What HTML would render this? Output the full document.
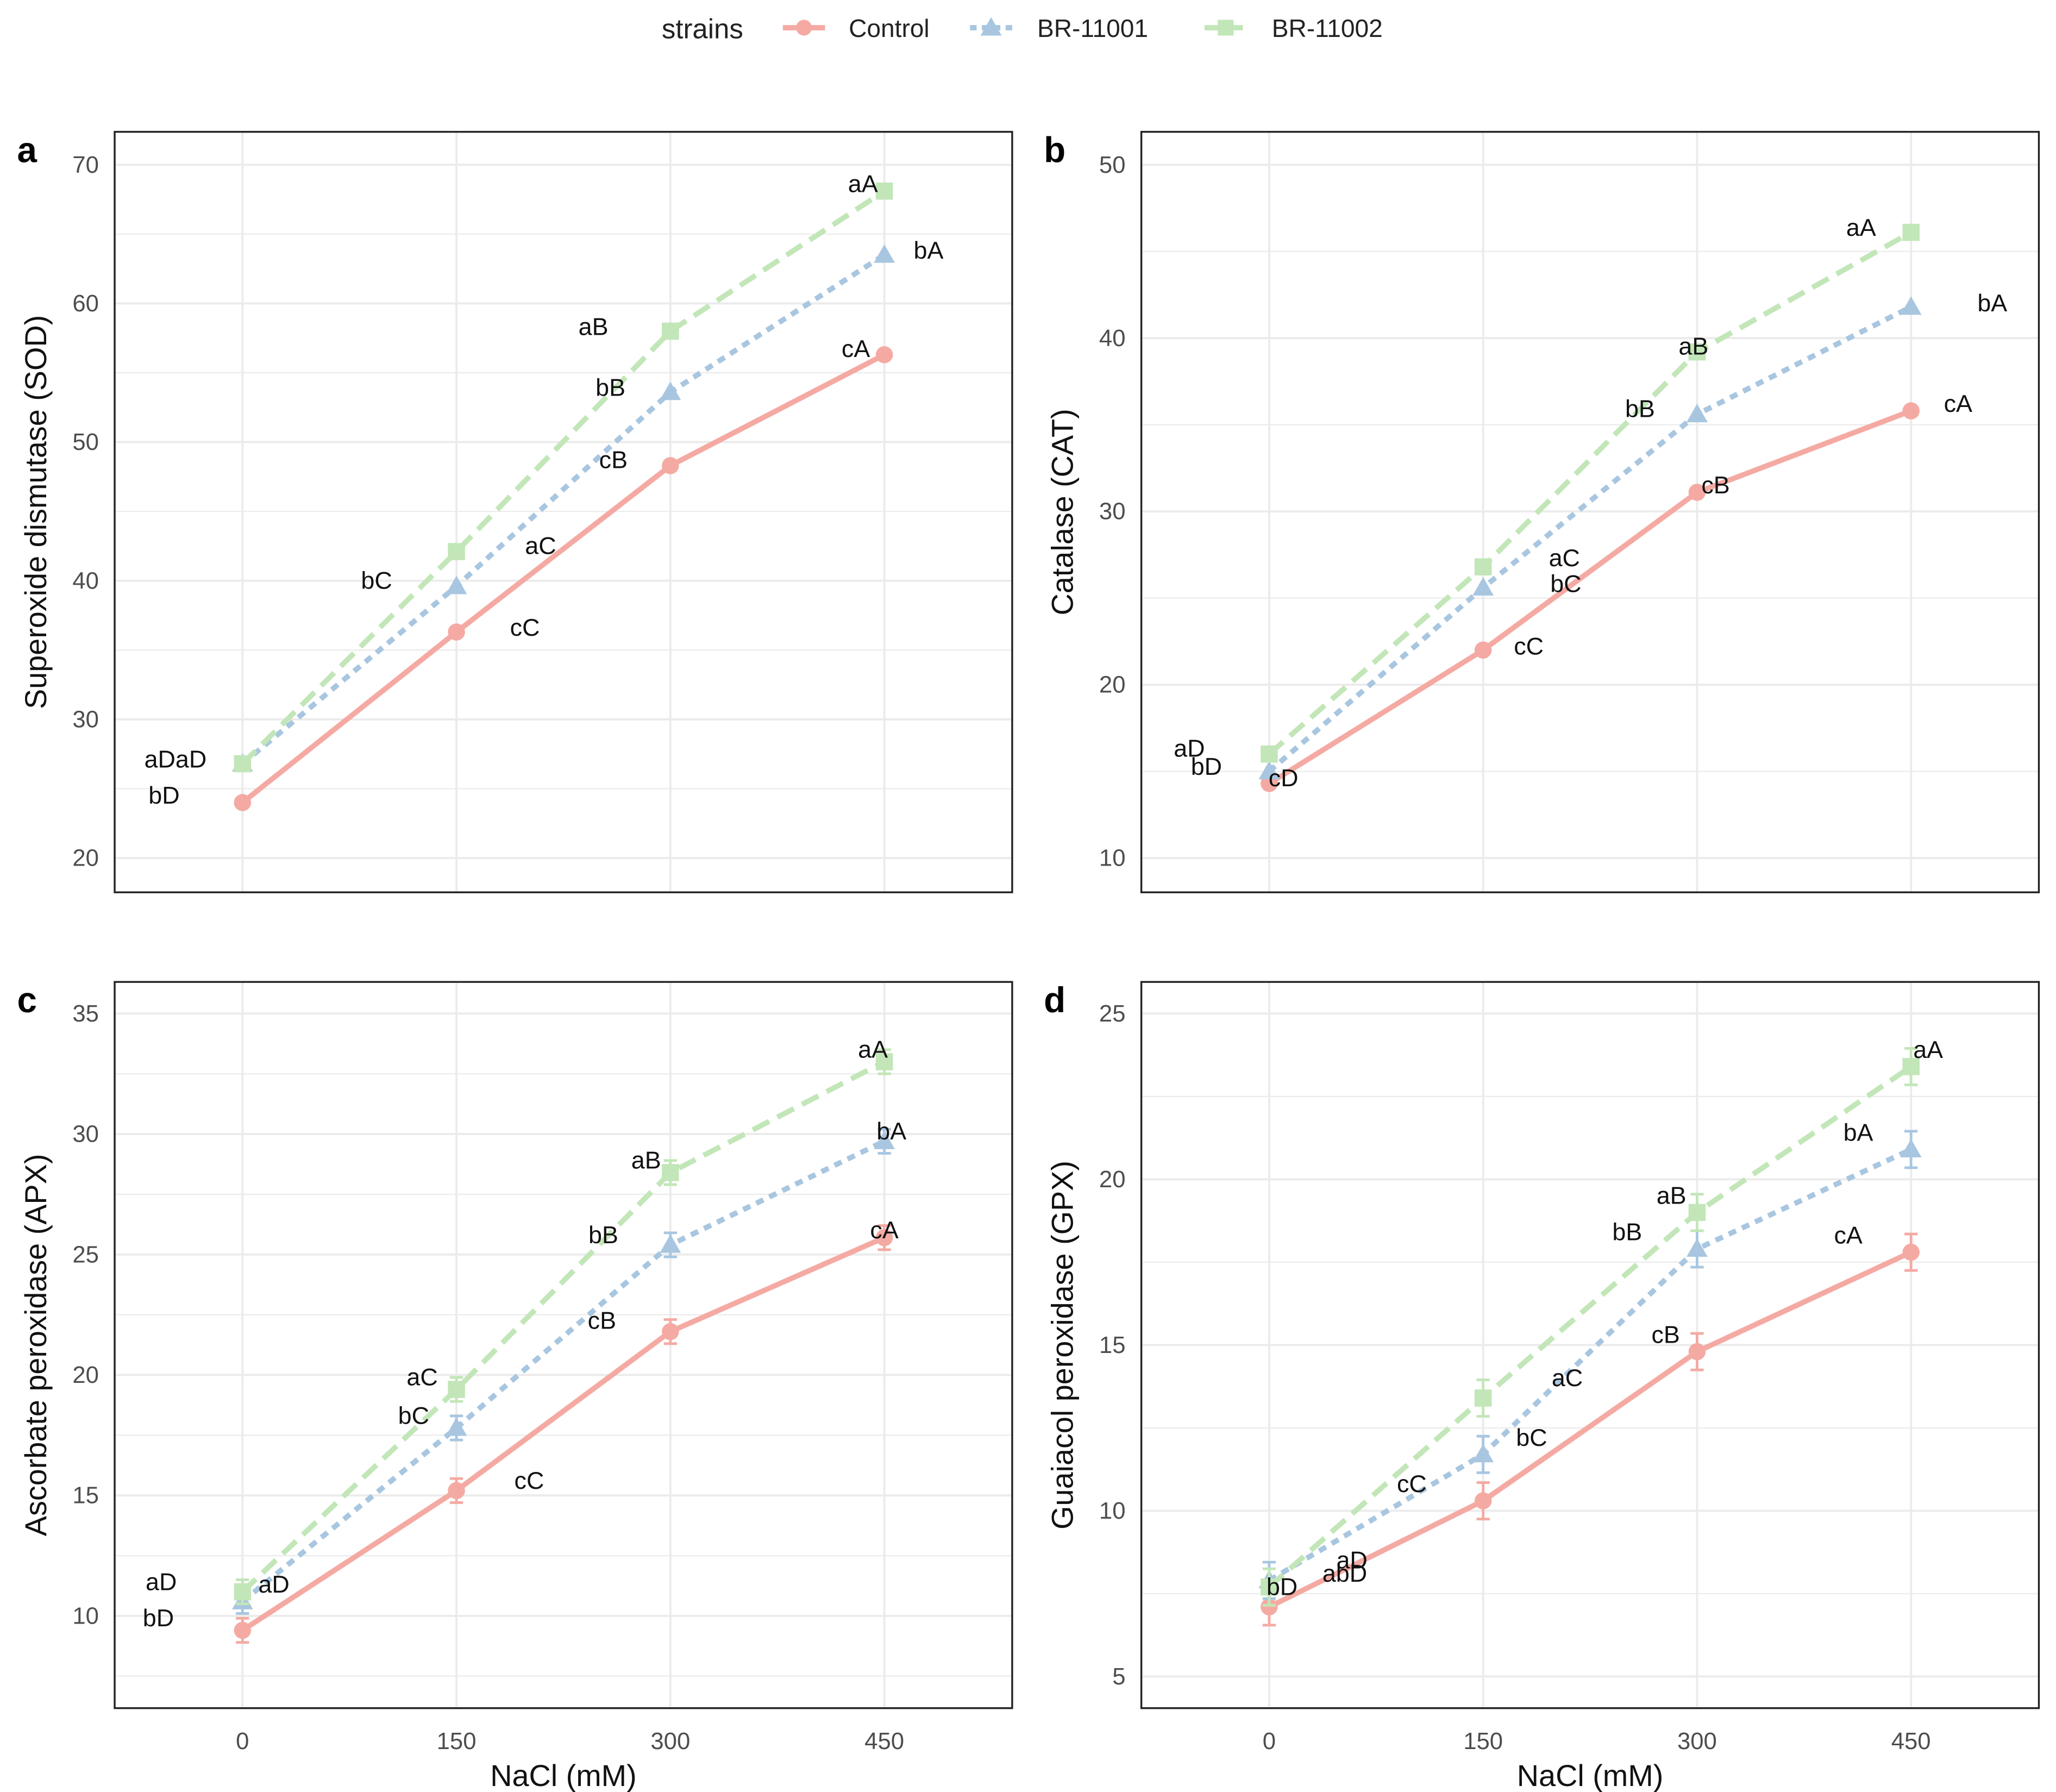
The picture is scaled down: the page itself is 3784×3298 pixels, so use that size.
<!DOCTYPE html>
<html><head><meta charset="utf-8"><style>
html,body{margin:0;padding:0;background:#fff;}
svg{display:block;font-family:"Liberation Sans",Arial,sans-serif;}
</style></head><body>
<svg id="chart" width="3784" height="3298" viewBox="0 0 1560 1359.6" xmlns="http://www.w3.org/2000/svg">
<g id="legend">
<text x="533" y="29" font-size="21" text-anchor="middle" fill="#222">strains</text>
<g><line x1="594" y1="21" x2="626" y2="21" stroke="#F4AAA3" stroke-width="4"/><circle cx="610" cy="21" r="6" fill="#F4AAA3"/><text x="644" y="28" font-size="19" fill="#222">Control</text></g>
<g><line x1="736" y1="21" x2="768" y2="21" stroke="#A8C6E0" stroke-width="4" stroke-dasharray="5 4"/><path d="M752 13 L760 27 L744 27 Z" fill="#A8C6E0"/><text x="787" y="28" font-size="19" fill="#222">BR-11001</text></g>
<g><line x1="914" y1="21" x2="946" y2="21" stroke="#C2E6B8" stroke-width="4" stroke-dasharray="12 5"/><rect x="924" y="15" width="12" height="12" fill="#C2E6B8"/><text x="965" y="28" font-size="19" fill="#222">BR-11002</text></g>
</g>
</svg>
<script>
const xCats = [0, 150, 300, 450];
const seriesNames = ['Control', 'BR-11001', 'BR-11002'];
const aControl = [24, 36.3, 48.3, 56.3];
const a11001 = [26.8, 39.6, 53.6, 63.5];
const a11002 = [26.8, 42.1, 58, 68.1];
const bControl = [14.3, 22, 31.1, 35.8];
const b11001 = [15, 25.6, 35.6, 41.8];
const b11002 = [16, 26.8, 39.2, 46.1];
const cControl = [9.4, 15.2, 21.8, 25.7];
const c11001 = [10.6, 17.8, 25.4, 29.7];
const c11002 = [11, 19.4, 28.4, 33];
const cErr = [0.5, 0.5, 0.5, 0.5];
const dControl = [7.1, 10.3, 14.8, 17.8];
const d11001 = [7.9, 11.7, 17.9, 20.9];
const d11002 = [7.7, 13.4, 19, 23.4];
const dErr = [0.55, 0.55, 0.55, 0.55];
const aTicks = [20, 30, 40, 50, 60, 70];
const bTicks = [10, 20, 30, 40, 50];
const cTicks = [10, 15, 20, 25, 30, 35];
const dTicks = [5, 10, 15, 20, 25];
const aLabels = [['aA',435,68.6],['bA',481,63.8],['aB',246,58.3],['cA',430,56.7],['bB',258,53.9],['cB',260,48.7],['aC',209,42.5],['bC',94,40],['cC',198,36.6],['aDaD',-47,27.1],['bD',-55,24.5]];
const bLabels = [['aA',415,46.35],['bA',507,42],['aB',297.5,39.5],['cA',483,36.2],['bB',260,35.9],['cB',313,31.5],['aC',207,27.3],['bC',208,25.8],['cC',182,22.2],['aD',-56,16.3],['bD',-44,15.25],['cD',10,14.6]];
const cLabels = [['aA',442,33.5],['bA',455,30.1],['aB',283,28.9],['bB',253,25.8],['cA',450,26],['cB',252,22.25],['aC',126,19.9],['bC',120,18.3],['cC',201,15.6],['aD',-57,11.4],['aD',22,11.3],['bD',-59,9.9]];
const dLabels = [['aA',462,23.9],['bA',413,21.4],['aB',282,19.5],['bB',251,18.4],['cA',406,18.3],['cB',278,15.3],['aC',209,14],['bC',184,12.2],['cC',100,10.8],['aD',58,8.5],['abD',53,8.1],['bD',9,7.7]];

const NS = 'http://www.w3.org/2000/svg';
const svg = document.getElementById('chart');
const colors = ['#F4AAA3', '#A8C6E0', '#C2E6B8'];
const dashes = [null, '6 5', '14 7'];
function mk(tag, attrs, parent) { const e = document.createElementNS(NS, tag); for (const k in attrs) e.setAttribute(k, attrs[k]); (parent || svg).appendChild(e); return e; }

function panel(cfg) {
  const g = mk('g', {});
  
  
  const L = cfg.box[0], T = cfg.box[1], R = cfg.box[2], B = cfg.box[3];
  const xs = v => cfg.x0 + v * (cfg.x450 - cfg.x0) / 450;
  const ys = v => cfg.yTopPx + (cfg.yTopVal - v) * (cfg.yBotPx - cfg.yTopPx) / (cfg.yTopVal - cfg.yBotVal);
  const step = cfg.ticks[1] - cfg.ticks[0];
  for (let v = cfg.ticks[0] - step / 2; v <= cfg.ticks[cfg.ticks.length - 1] + step / 2 + 1e-9; v += step / 2) {
    const y = ys(v); if (y < T || y > B) continue;
    const major = cfg.ticks.some(t => Math.abs(t - v) < 1e-6);
    const gl = mk('line', {x1: L, x2: R, y1: y, y2: y, stroke: '#EBEBEB', 'stroke-width': major ? 1.6 : 0.9}, g);
    
    
  }
  xCats.forEach(c => {
    const gl = mk('line', {x1: xs(c), x2: xs(c), y1: T, y2: B, stroke: '#EBEBEB', 'stroke-width': 1.6}, g);
    
    
  });
  cfg.ticks.forEach(t => {
    const tl = mk('text', {x: L - 12, y: ys(t) + 6, 'font-size': 18, 'text-anchor': 'end', fill: '#4d4d4d'}, g);
    tl.textContent = t;
    
    
  });
  cfg.series.forEach((vals, si) => {
    const sg = mk('g', {}, g);
    
    
    const pts = vals.map((v, i) => xs(xCats[i]) + ',' + ys(v)).join(' ');
    const pl = mk('polyline', {points: pts, fill: 'none', stroke: colors[si], 'stroke-width': 4}, sg);
    if (dashes[si]) pl.setAttribute('stroke-dasharray', dashes[si]);
    
    
    vals.forEach((v, i) => {
      const x = xs(xCats[i]), y = ys(v);
      if (cfg.err) {
        const e = cfg.err[i];
        const eb = mk('path', {d: `M${x-5} ${ys(v+e)}H${x+5}M${x} ${ys(v+e)}V${ys(v-e)}M${x-5} ${ys(v-e)}H${x+5}`, stroke: colors[si], 'stroke-width': 2, fill: 'none'}, sg);
        
        
      }
      let m;
      if (si === 0) m = mk('circle', {cx: x, cy: y, r: 6.5, fill: colors[si]}, sg);
      else if (si === 1) m = mk('path', {d: `M${x} ${y-8}L${x+8} ${y+6}L${x-8} ${y+6}Z`, fill: colors[si]}, sg);
      else m = mk('rect', {x: x - 6.5, y: y - 6.5, width: 13, height: 13, fill: colors[si]}, sg);
      
      
    });
  });
  cfg.labels.forEach(l => {
    const t = mk('text', {x: xs(l[1]), y: ys(l[2]) + 6, 'font-size': 18.5, 'text-anchor': 'middle', fill: '#111'}, g);
    t.textContent = l[0];
    
    
  });
  const bx = mk('rect', {x: L, y: T, width: R - L, height: B - T, fill: 'none', stroke: '#222', 'stroke-width': 1.4}, g);
  
  
  const pl = mk('text', {x: cfg.letterX, y: T + 23, 'font-size': 27, 'font-weight': 'bold', fill: '#000'}, g);
  pl.textContent = cfg.letter;
  
  
  const cy = (T + B) / 2;
  const yt = mk('text', {x: cfg.titleX, y: cy, 'font-size': 23, 'text-anchor': 'middle', fill: '#111', transform: `rotate(-90 ${cfg.titleX} ${cy})`}, g);
  yt.textContent = cfg.title;
  
  
  if (cfg.xaxis) {
    xCats.forEach(c => {
      const tl = mk('text', {x: xs(c), y: B + 31, 'font-size': 18, 'text-anchor': 'middle', fill: '#4d4d4d'}, g);
      tl.textContent = c;
      
      
    });
    const xt = mk('text', {x: (L + R) / 2, y: B + 59, 'font-size': 23, 'text-anchor': 'middle', fill: '#111'}, g);
    xt.textContent = 'NaCl (mM)';
    
    
  }
}

panel({letter: 'a', letterX: 13, box: [87, 100, 768, 677], x0: 184, x450: 671, yTopVal: 70, yTopPx: 125, yBotVal: 20, yBotPx: 651, ticks: aTicks, series: [aControl, a11001, a11002], labels: aLabels, title: 'Superoxide dismutase (SOD)', titleX: 35, xaxis: false});
panel({letter: 'b', letterX: 792, box: [866, 100, 1547, 677], x0: 963, x450: 1450, yTopVal: 50, yTopPx: 125, yBotVal: 10, yBotPx: 651, ticks: bTicks, series: [bControl, b11001, b11002], labels: bLabels, title: 'Catalase (CAT)', titleX: 814, xaxis: false});
panel({letter: 'c', letterX: 13, box: [87, 745, 768, 1296], x0: 184, x450: 671, yTopVal: 35, yTopPx: 769, yBotVal: 10, yBotPx: 1226, ticks: cTicks, series: [cControl, c11001, c11002], err: cErr, labels: cLabels, title: 'Ascorbate peroxidase (APX)', titleX: 35, xaxis: true});
panel({letter: 'd', letterX: 792, box: [866, 745, 1547, 1296], x0: 963, x450: 1450, yTopVal: 25, yTopPx: 769, yBotVal: 5, yBotPx: 1272, ticks: dTicks, series: [dControl, d11001, d11002], err: dErr, labels: dLabels, title: 'Guaiacol peroxidase (GPX)', titleX: 814, xaxis: true});
svg.appendChild(document.getElementById('legend'));
</script>
</body></html>
